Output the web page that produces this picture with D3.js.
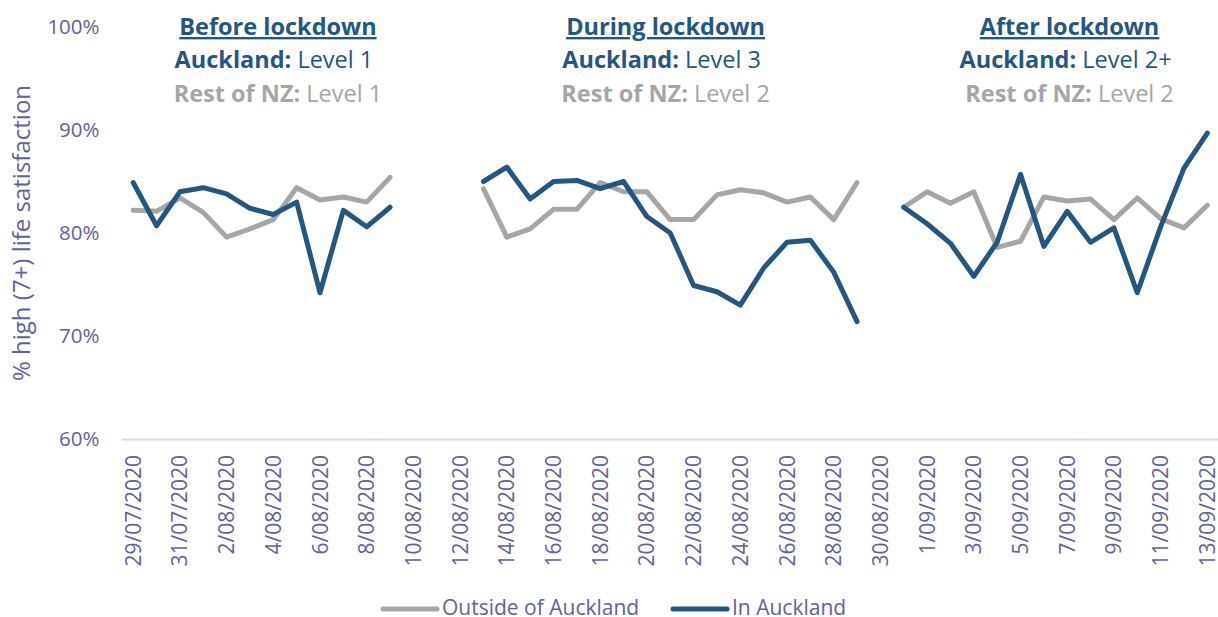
<!DOCTYPE html>
<html>
<head>
<meta charset="utf-8">
<script src="https://cdn.jsdelivr.net/npm/d3@7"></script>
<style>
  body { margin: 0; background: #fff; }
  svg { display: block; font-family: "Open Sans", sans-serif; }
</style>
</head>
<body>
<svg id="chart" width="1218" height="617"></svg>
<script>
// ------------------------------------
// Data
// ------------------------------------
const dates = [
  "29/07/2020", "30/07/2020", "31/07/2020", "1/08/2020", "2/08/2020", "3/08/2020",
  "4/08/2020", "5/08/2020", "6/08/2020", "7/08/2020", "8/08/2020", "9/08/2020",
  "10/08/2020", "11/08/2020", "12/08/2020", "13/08/2020", "14/08/2020", "15/08/2020",
  "16/08/2020", "17/08/2020", "18/08/2020", "19/08/2020", "20/08/2020", "21/08/2020",
  "22/08/2020", "23/08/2020", "24/08/2020", "25/08/2020", "26/08/2020", "27/08/2020",
  "28/08/2020", "29/08/2020", "30/08/2020", "31/08/2020", "1/09/2020", "2/09/2020",
  "3/09/2020", "4/09/2020", "5/09/2020", "6/09/2020", "7/09/2020", "8/09/2020",
  "9/09/2020", "10/09/2020", "11/09/2020", "12/09/2020", "13/09/2020"
];

// % high (7+) life satisfaction, null = no data
const outsideAuckland = [
  82.2, 82.1, 83.4, 82.0, 79.6, 80.4, 81.3, 84.4, 83.2, 83.5, 83.0, 85.4,
  null, null, null,
  84.3, 79.6, 80.4, 82.3, 82.3, 84.9, 84.0, 84.0, 81.3, 81.3, 83.7, 84.2, 83.9, 83.0, 83.5, 81.3, 84.9,
  null,
  82.5, 84.0, 82.9, 84.0, 78.6, 79.2, 83.5, 83.1, 83.3, 81.3, 83.4, 81.4, 80.5, 82.7
];

const inAuckland = [
  84.9, 80.7, 84.0, 84.4, 83.8, 82.4, 81.8, 83.0, 74.2, 82.2, 80.6, 82.5,
  null, null, null,
  85.0, 86.4, 83.3, 85.0, 85.1, 84.3, 85.0, 81.6, 80.0, 74.9, 74.3, 73.0, 76.6, 79.1, 79.3, 76.2, 71.4,
  null,
  82.5, 80.9, 79.0, 75.8, 79.1, 85.7, 78.7, 82.1, 79.1, 80.5, 74.2, 80.6, 86.3, 89.7
];

const yTicks = [0.6, 0.7, 0.8, 0.9, 1.0];

const seriesNames = ["Outside of Auckland", "In Auckland"];

// period annotations: heading, Auckland level, rest of NZ level
const periodTitles = ["Before lockdown", "During lockdown", "After lockdown"];
const aucklandLevels = ["Level 1", "Level 3", "Level 2+"];
const restLevels = ["Level 1", "Level 2", "Level 2"];
// date (index position) the heading is centred over
const periodCentres = [6.2, 22.8, 40.1];

// ------------------------------------
// Setup
// ------------------------------------
const FONT = "'Open Sans', sans-serif";
const BLUE = "#245682";
const GREY = "#a6a6a6";
const LAVENDER = "#62629a";

const svg = d3.select("#chart");
const plot = { left: 121.5, right: 1219, top: 27, bottom: 439 };

const x = d3.scaleBand().domain(dates).range([plot.left, plot.right]).padding(0);
const xc = d => x(d) + x.bandwidth() / 2;
const xi = i => plot.left + (i + 0.5) * x.bandwidth();

const y = d3.scaleLinear().domain([0.6, 1.0]).range([plot.bottom, plot.top]);

// X axis
const xAxis = svg.append("g")
  .attr("transform", `translate(0,${plot.bottom})`)
  .call(
    d3.axisBottom(x)
      .tickValues(dates.filter((d, i) => i % 2 === 0))
      .tickSize(0)
      .tickPadding(0)
  )
  .attr("font-family", FONT);

xAxis.select(".domain")
  .attr("stroke", "#d9d9e8")
  .attr("stroke-width", 2);

xAxis.selectAll(".tick text")
  .attr("fill", LAVENDER)
  .style("font-size", "21px")
  .attr("text-anchor", "end")
  .attr("transform", "translate(0,16) rotate(-90)")
  .attr("x", 0)
  .attr("y", 0)
  .attr("dy", "0.36em");

// Y axis (labels only)
const yAxis = svg.append("g")
  .attr("transform", `translate(${plot.left},0)`)
  .call(
    d3.axisLeft(y)
      .tickValues(yTicks)
      .tickFormat(d3.format(".0%"))
      .tickSize(0)
      .tickPadding(22)
  )
  .attr("font-family", FONT);

yAxis.select(".domain").remove();
yAxis.selectAll(".tick text")
  .attr("fill", LAVENDER)
  .style("font-size", "20.5px");

// Y label
svg.append("text")
  .attr("transform", "rotate(-90)")
  .attr("x", -233)
  .attr("y", 30)
  .attr("text-anchor", "middle")
  .attr("fill", LAVENDER)
  .style("font-size", "24px")
  .text("% high (7+) life satisfaction");

// ------------------------------------
// Lines
// ------------------------------------
const line = d3.line()
  .defined(d => d.v !== null)
  .x(d => xc(d.date))
  .y(d => y(d.v / 100));

const series = [
  { name: seriesNames[0], values: outsideAuckland, color: GREY },
  { name: seriesNames[1], values: inAuckland, color: BLUE }
];

series.forEach(s => {
  svg.append("path")
    .datum(dates.map((date, i) => ({ date, v: s.values[i] })))
    .attr("fill", "none")
    .attr("stroke", s.color)
    .attr("stroke-width", 5)
    .attr("stroke-linejoin", "round")
    .attr("stroke-linecap", "round")
    .attr("d", line);
});

// ------------------------------------
// Period annotations
// ------------------------------------
periodTitles.forEach((title, i) => {
  const cx = xi(periodCentres[i]);

  svg.append("text")
    .attr("x", cx)
    .attr("y", 35)
    .attr("text-anchor", "middle")
    .attr("fill", BLUE)
    .style("font-size", "23.5px")
    .style("font-weight", "bold")
    .style("text-decoration", "underline")
    .text(title);

  const t1 = svg.append("text")
    .attr("x", cx - 4)
    .attr("y", 68)
    .attr("text-anchor", "middle")
    .attr("fill", BLUE)
    .style("font-size", "23.5px");
  t1.append("tspan").style("font-weight", "bold").text("Auckland: ");
  t1.append("tspan").text(aucklandLevels[i]);

  const t2 = svg.append("text")
    .attr("x", cx)
    .attr("y", 102)
    .attr("text-anchor", "middle")
    .attr("fill", GREY)
    .style("font-size", "23.5px");
  t2.append("tspan").style("font-weight", "bold").text("Rest of NZ: ");
  t2.append("tspan").text(restLevels[i]);
});

// ------------------------------------
// Legend
// ------------------------------------
const legendX = [383, 673];
series.forEach((s, i) => {
  const g = svg.append("g").attr("transform", `translate(${legendX[i]},609)`);
  g.append("line")
    .attr("x1", 0).attr("x2", 54)
    .attr("stroke", s.color)
    .attr("stroke-width", 5)
    .attr("stroke-linecap", "round");
  g.append("text")
    .attr("x", 59)
    .attr("y", 6)
    .attr("fill", LAVENDER)
    .style("font-size", "21px")
    .text(s.name);
});
</script>
</body>
</html>
